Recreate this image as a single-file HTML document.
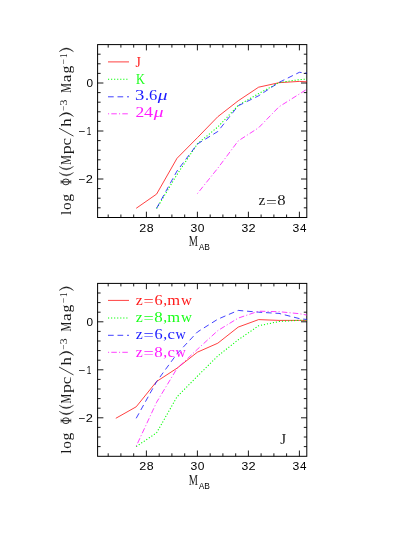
<!DOCTYPE html>
<html><head><meta charset="utf-8"><title>plot</title>
<style>html,body{margin:0;padding:0;background:#fff}svg{display:block;will-change:transform;opacity:.999}text{font-family:"Liberation Serif",serif;fill-opacity:0.90}.s{font-family:"Liberation Sans",sans-serif;fill-opacity:1}</style></head><body>
<svg width="402" height="535" viewBox="0 0 402 535">
<rect width="402" height="535" fill="#fff"/>
<defs><clipPath id="c1"><rect x="97.6" y="44.6" width="209.2" height="172.9"/></clipPath>
<clipPath id="c2"><rect x="97.6" y="283.4" width="209.2" height="172.9"/></clipPath></defs>
<rect x="97.6" y="44.6" width="209.2" height="172.9" fill="none" stroke="#000" stroke-width="1.0"/>
<path d="M108.2 217.5 v-3.0 M108.2 44.6 v3.0 M120.9 217.5 v-3.0 M120.9 44.6 v3.0 M133.7 217.5 v-3.0 M133.7 44.6 v3.0 M146.4 217.5 v-5.8 M146.4 44.6 v5.8 M159.2 217.5 v-3.0 M159.2 44.6 v3.0 M171.9 217.5 v-3.0 M171.9 44.6 v3.0 M184.7 217.5 v-3.0 M184.7 44.6 v3.0 M197.4 217.5 v-5.8 M197.4 44.6 v5.8 M210.2 217.5 v-3.0 M210.2 44.6 v3.0 M222.9 217.5 v-3.0 M222.9 44.6 v3.0 M235.7 217.5 v-3.0 M235.7 44.6 v3.0 M248.4 217.5 v-5.8 M248.4 44.6 v5.8 M261.1 217.5 v-3.0 M261.1 44.6 v3.0 M273.9 217.5 v-3.0 M273.9 44.6 v3.0 M286.6 217.5 v-3.0 M286.6 44.6 v3.0 M299.4 217.5 v-5.8 M299.4 44.6 v5.8 M97.6 207.8 h3.0 M306.8 207.8 h-3.0 M97.6 198.2 h3.0 M306.8 198.2 h-3.0 M97.6 188.6 h3.0 M306.8 188.6 h-3.0 M97.6 179.0 h5.8 M306.8 179.0 h-5.8 M97.6 169.4 h3.0 M306.8 169.4 h-3.0 M97.6 159.8 h3.0 M306.8 159.8 h-3.0 M97.6 150.2 h3.0 M306.8 150.2 h-3.0 M97.6 140.6 h3.0 M306.8 140.6 h-3.0 M97.6 131.0 h5.8 M306.8 131.0 h-5.8 M97.6 121.4 h3.0 M306.8 121.4 h-3.0 M97.6 111.8 h3.0 M306.8 111.8 h-3.0 M97.6 102.2 h3.0 M306.8 102.2 h-3.0 M97.6 92.6 h3.0 M306.8 92.6 h-3.0 M97.6 83.0 h5.8 M306.8 83.0 h-5.8 M97.6 73.4 h3.0 M306.8 73.4 h-3.0 M97.6 63.8 h3.0 M306.8 63.8 h-3.0 M97.6 54.2 h3.0 M306.8 54.2 h-3.0 " stroke="#000" stroke-width=".9" fill="none"/>
<text transform="translate(139.21,231.50) scale(1.165,1)" font-size="10.8" class="s">2</text><text transform="translate(146.71,231.50) scale(1.147,1)" font-size="10.8" class="s">8</text>
<text transform="translate(190.42,231.50) scale(1.128,1)" font-size="10.8" class="s">3</text><text transform="translate(197.72,231.50) scale(1.111,1)" font-size="10.8" class="s">0</text>
<text transform="translate(241.42,231.50) scale(1.128,1)" font-size="10.8" class="s">3</text><text transform="translate(248.50,231.50) scale(1.185,1)" font-size="10.8" class="s">2</text>
<text transform="translate(292.42,231.50) scale(1.128,1)" font-size="10.8" class="s">3</text><text transform="translate(299.92,231.50) scale(1.077,1)" font-size="10.8" class="s">4</text>
<text transform="translate(86.43,87.10) scale(1.093,1)" font-size="10.8" class="s">0</text>
<text transform="translate(78.15,135.10) scale(1.093,1)" font-size="10.8" class="s">−</text>
<text transform="translate(86.79,135.10) scale(0.756,1)" font-size="10.8" class="s">1</text>
<text transform="translate(78.15,183.10) scale(1.093,1)" font-size="10.8" class="s">−</text>
<text transform="translate(85.70,183.10) scale(1.185,1)" font-size="10.8" class="s">2</text>
<text transform="translate(188.84,246.10) scale(0.700,1)" font-size="14.8">M</text>
<text transform="translate(199.00,250.20) scale(0.917,1)" font-size="8.6" class="s">A</text><text transform="translate(204.34,250.20) scale(0.978,1)" font-size="8.6" class="s">B</text>
<g transform="translate(71.0,215.0) rotate(-90)">
<text transform="translate(-0.04,0.00) scale(1.000,1)" font-size="15.2">l</text><text transform="translate(5.02,0.00) scale(1.008,1)" font-size="15.2">o</text><text transform="translate(13.21,0.00) scale(1.031,1)" font-size="15.2">g</text><text transform="translate(50.33,0.00) scale(0.712,1)" font-size="15.2">M</text><text transform="translate(60.72,0.00) scale(1.191,1)" font-size="15.2">p</text><text transform="translate(69.47,0.00) scale(1.112,1)" font-size="15.2">c</text><text transform="translate(88.20,0.00) scale(1.105,1)" font-size="15.2">h</text><text transform="translate(122.33,0.00) scale(0.712,1)" font-size="15.2">M</text><text transform="translate(132.75,0.00) scale(1.150,1)" font-size="15.2">a</text><text transform="translate(141.41,0.00) scale(1.031,1)" font-size="15.2">g</text>
<text transform="translate(103.95,-4.40) scale(0.960,1)" font-size="10.0">−</text><text transform="translate(109.44,-4.40) scale(1.185,1)" font-size="10.0">3</text>
<text transform="translate(150.43,-4.40) scale(1.003,1)" font-size="10.0">−</text><text transform="translate(156.89,-4.40) scale(0.907,1)" font-size="10.0">1</text>
<path d="M42.50 -11.9 Q35.80 -4.65 42.50 2.6 Q38.00 -4.65 42.50 -11.9ZM48.60 -11.9 Q41.90 -4.65 48.60 2.6 Q44.10 -4.65 48.60 -11.9ZM98.50 -11.9 Q106.40 -4.65 98.50 2.6 Q104.20 -4.65 98.50 -11.9ZM163.30 -11.9 Q170.80 -4.65 163.30 2.6 Q168.60 -4.65 163.30 -11.9Z" fill="#000" fill-opacity=".85" stroke="#000" stroke-opacity=".85" stroke-width=".35" stroke-linejoin="round"/>
<path d="M78.9 2.5 L86.8 -12" stroke="#000" stroke-opacity=".85" stroke-width=".9" fill="none"/>
<g stroke="#000" stroke-opacity=".88" fill="none"><ellipse cx="33.1" cy="-5.1" rx="2.9" ry="3.4" stroke-width=".95"/><path d="M33.1 0 V-10.1" stroke-width="1.1"/><path d="M31.2 -0.2 H35 M31.2 -9.9 H35" stroke-width=".6"/></g>
</g>
<rect x="97.6" y="283.4" width="209.2" height="172.9" fill="none" stroke="#000" stroke-width="1.0"/>
<path d="M108.2 456.3 v-3.0 M108.2 283.4 v3.0 M120.9 456.3 v-3.0 M120.9 283.4 v3.0 M133.7 456.3 v-3.0 M133.7 283.4 v3.0 M146.4 456.3 v-5.8 M146.4 283.4 v5.8 M159.2 456.3 v-3.0 M159.2 283.4 v3.0 M171.9 456.3 v-3.0 M171.9 283.4 v3.0 M184.7 456.3 v-3.0 M184.7 283.4 v3.0 M197.4 456.3 v-5.8 M197.4 283.4 v5.8 M210.2 456.3 v-3.0 M210.2 283.4 v3.0 M222.9 456.3 v-3.0 M222.9 283.4 v3.0 M235.7 456.3 v-3.0 M235.7 283.4 v3.0 M248.4 456.3 v-5.8 M248.4 283.4 v5.8 M261.1 456.3 v-3.0 M261.1 283.4 v3.0 M273.9 456.3 v-3.0 M273.9 283.4 v3.0 M286.6 456.3 v-3.0 M286.6 283.4 v3.0 M299.4 456.3 v-5.8 M299.4 283.4 v5.8 M97.6 446.6 h3.0 M306.8 446.6 h-3.0 M97.6 437.0 h3.0 M306.8 437.0 h-3.0 M97.6 427.4 h3.0 M306.8 427.4 h-3.0 M97.6 417.8 h5.8 M306.8 417.8 h-5.8 M97.6 408.2 h3.0 M306.8 408.2 h-3.0 M97.6 398.6 h3.0 M306.8 398.6 h-3.0 M97.6 389.0 h3.0 M306.8 389.0 h-3.0 M97.6 379.4 h3.0 M306.8 379.4 h-3.0 M97.6 369.8 h5.8 M306.8 369.8 h-5.8 M97.6 360.2 h3.0 M306.8 360.2 h-3.0 M97.6 350.6 h3.0 M306.8 350.6 h-3.0 M97.6 341.0 h3.0 M306.8 341.0 h-3.0 M97.6 331.4 h3.0 M306.8 331.4 h-3.0 M97.6 321.8 h5.8 M306.8 321.8 h-5.8 M97.6 312.2 h3.0 M306.8 312.2 h-3.0 M97.6 302.6 h3.0 M306.8 302.6 h-3.0 M97.6 293.0 h3.0 M306.8 293.0 h-3.0 " stroke="#000" stroke-width=".9" fill="none"/>
<text transform="translate(139.21,470.30) scale(1.165,1)" font-size="10.8" class="s">2</text><text transform="translate(146.71,470.30) scale(1.147,1)" font-size="10.8" class="s">8</text>
<text transform="translate(190.42,470.30) scale(1.128,1)" font-size="10.8" class="s">3</text><text transform="translate(197.72,470.30) scale(1.111,1)" font-size="10.8" class="s">0</text>
<text transform="translate(241.42,470.30) scale(1.128,1)" font-size="10.8" class="s">3</text><text transform="translate(248.50,470.30) scale(1.185,1)" font-size="10.8" class="s">2</text>
<text transform="translate(292.42,470.30) scale(1.128,1)" font-size="10.8" class="s">3</text><text transform="translate(299.92,470.30) scale(1.077,1)" font-size="10.8" class="s">4</text>
<text transform="translate(86.43,325.90) scale(1.093,1)" font-size="10.8" class="s">0</text>
<text transform="translate(78.15,373.90) scale(1.093,1)" font-size="10.8" class="s">−</text>
<text transform="translate(86.79,373.90) scale(0.756,1)" font-size="10.8" class="s">1</text>
<text transform="translate(78.15,421.90) scale(1.093,1)" font-size="10.8" class="s">−</text>
<text transform="translate(85.70,421.90) scale(1.185,1)" font-size="10.8" class="s">2</text>
<text transform="translate(188.84,484.90) scale(0.700,1)" font-size="14.8">M</text>
<text transform="translate(199.00,489.00) scale(0.917,1)" font-size="8.6" class="s">A</text><text transform="translate(204.34,489.00) scale(0.978,1)" font-size="8.6" class="s">B</text>
<g transform="translate(71.0,453.8) rotate(-90)">
<text transform="translate(-0.04,0.00) scale(1.000,1)" font-size="15.2">l</text><text transform="translate(5.02,0.00) scale(1.008,1)" font-size="15.2">o</text><text transform="translate(13.21,0.00) scale(1.031,1)" font-size="15.2">g</text><text transform="translate(50.33,0.00) scale(0.712,1)" font-size="15.2">M</text><text transform="translate(60.72,0.00) scale(1.191,1)" font-size="15.2">p</text><text transform="translate(69.47,0.00) scale(1.112,1)" font-size="15.2">c</text><text transform="translate(88.20,0.00) scale(1.105,1)" font-size="15.2">h</text><text transform="translate(122.33,0.00) scale(0.712,1)" font-size="15.2">M</text><text transform="translate(132.75,0.00) scale(1.150,1)" font-size="15.2">a</text><text transform="translate(141.41,0.00) scale(1.031,1)" font-size="15.2">g</text>
<text transform="translate(103.95,-4.40) scale(0.960,1)" font-size="10.0">−</text><text transform="translate(109.44,-4.40) scale(1.185,1)" font-size="10.0">3</text>
<text transform="translate(150.43,-4.40) scale(1.003,1)" font-size="10.0">−</text><text transform="translate(156.89,-4.40) scale(0.907,1)" font-size="10.0">1</text>
<path d="M42.50 -11.9 Q35.80 -4.65 42.50 2.6 Q38.00 -4.65 42.50 -11.9ZM48.60 -11.9 Q41.90 -4.65 48.60 2.6 Q44.10 -4.65 48.60 -11.9ZM98.50 -11.9 Q106.40 -4.65 98.50 2.6 Q104.20 -4.65 98.50 -11.9ZM163.30 -11.9 Q170.80 -4.65 163.30 2.6 Q168.60 -4.65 163.30 -11.9Z" fill="#000" fill-opacity=".85" stroke="#000" stroke-opacity=".85" stroke-width=".35" stroke-linejoin="round"/>
<path d="M78.9 2.5 L86.8 -12" stroke="#000" stroke-opacity=".85" stroke-width=".9" fill="none"/>
<g stroke="#000" stroke-opacity=".88" fill="none"><ellipse cx="33.1" cy="-5.1" rx="2.9" ry="3.4" stroke-width=".95"/><path d="M33.1 0 V-10.1" stroke-width="1.1"/><path d="M31.2 -0.2 H35 M31.2 -9.9 H35" stroke-width=".6"/></g>
</g>
<g clip-path="url(#c1)" fill="none" stroke-width="0.75" stroke-linejoin="round">
<path d="M136.2 208.3 L156.6 194.1 L177.0 158.3 L197.4 137.7 L217.8 116.7 L238.2 100.8 L258.6 87.2 L279.0 82.7 L299.4 81.4 L319.8 82.6" stroke="#ff0000"/>
<path d="M156.6 208.6 L177.0 174.6 L197.4 143.8 L217.8 127.0 L238.2 105.4 L258.6 93.6 L279.0 82.6 L299.4 79.6 L319.8 78.0" stroke="#00ff00" stroke-dasharray="1.15 1.9" stroke-width="1.05"/>
<path d="M156.6 208.3 L177.0 171.0 L197.4 144.0 L217.8 131.5 L238.2 105.8 L258.6 95.8 L279.0 82.4 L299.4 72.3 L319.8 74.5" stroke="#0000ff" stroke-dasharray="5.7 3.8"/>
<path d="M197.4 193.6 L217.8 168.2 L238.2 140.9 L258.6 127.8 L279.0 106.8 L299.4 94.0 L319.8 81.0" stroke="#ff00ff" stroke-dasharray="1.1 2.2 5.5 2.2"/>
</g>
<g clip-path="url(#c2)" fill="none" stroke-width="0.75" stroke-linejoin="round">
<path d="M115.8 418.3 L136.2 406.8 L156.6 381.5 L177.0 368.2 L197.4 352.2 L217.8 343.2 L238.2 327.1 L258.6 319.6 L279.0 320.4 L299.4 320.4 L319.8 320.4" stroke="#ff0000"/>
<path d="M136.2 446.6 L156.6 432.8 L177.0 396.8 L197.4 376.2 L217.8 356.0 L238.2 339.8 L258.6 325.8 L279.0 321.5 L299.4 320.3 L319.8 320.3" stroke="#00ff00" stroke-dasharray="1.15 1.9" stroke-width="1.05"/>
<path d="M136.2 418.3 L156.6 381.6 L177.0 353.8 L197.4 332.0 L217.8 319.2 L238.2 310.4 L258.6 312.2 L279.0 313.4 L299.4 318.6 L319.8 321.0" stroke="#0000ff" stroke-dasharray="5.7 3.8"/>
<path d="M136.2 446.2 L156.6 402.3 L177.0 368.5 L197.4 349.3 L217.8 330.6 L238.2 318.1 L258.6 311.2 L279.0 311.7 L299.4 313.7 L319.8 317.5" stroke="#ff00ff" stroke-dasharray="1.1 2.2 5.5 2.2"/>
</g>
<path d="M108 61.9 H129" stroke="#ff0000" stroke-width="0.75" fill="none"/>
<path d="M108 79.3 H129" stroke="#00ff00" stroke-width="1.05" fill="none" stroke-dasharray="1.15 1.9"/>
<path d="M108 96.8 H129" stroke="#0000ff" stroke-width="0.75" fill="none" stroke-dasharray="5.7 3.8"/>
<path d="M108 113.8 H129" stroke="#ff00ff" stroke-width="0.75" fill="none" stroke-dasharray="1.1 2.2 5.5 2.2"/>
<path d="M108 300.4 H129" stroke="#ff0000" stroke-width="0.75" fill="none"/>
<path d="M108 317.9 H129" stroke="#00ff00" stroke-width="1.05" fill="none" stroke-dasharray="1.15 1.9"/>
<path d="M108 335.3 H129" stroke="#0000ff" stroke-width="0.75" fill="none" stroke-dasharray="5.7 3.8"/>
<path d="M108 352.3 H129" stroke="#ff00ff" stroke-width="0.75" fill="none" stroke-dasharray="1.1 2.2 5.5 2.2"/>
<text transform="translate(135.59,66.90) scale(0.897,1)" font-size="15.2" fill="#ff0000">J</text>
<text transform="translate(136.01,84.00) scale(0.814,1)" font-size="15.2" fill="#00ff00">K</text>
<text transform="translate(135.12,100.00) scale(1.283,1)" font-size="14.6" fill="#0000ff">3</text><text transform="translate(144.90,100.00) scale(1.096,1)" font-size="14.6" fill="#0000ff">.</text><text transform="translate(148.88,100.00) scale(1.134,1)" font-size="14.6" fill="#0000ff">6</text><text transform="translate(157.70,100.00) scale(1.329,1)" font-size="14.6" font-style="italic" fill="#0000ff">μ</text>
<text transform="translate(135.45,117.30) scale(1.201,1)" font-size="14.6" fill="#ff00ff">2</text><text transform="translate(144.12,117.30) scale(1.242,1)" font-size="14.6" fill="#ff00ff">4</text><text transform="translate(153.70,117.30) scale(1.329,1)" font-size="14.6" font-style="italic" fill="#ff00ff">μ</text>
<text transform="translate(135.75,304.90) scale(1.036,1)" font-size="15.2" fill="#ff0000">z</text><text transform="translate(143.55,306.00) scale(1.193,1)" font-size="15.2" fill="#ff0000">=</text><text transform="translate(154.39,304.90) scale(1.074,1)" font-size="15.2" fill="#ff0000">6</text><text transform="translate(163.32,304.90) scale(1.011,1)" font-size="15.2" fill="#ff0000">,</text><text transform="translate(167.24,304.90) scale(1.088,1)" font-size="15.2" fill="#ff0000">m</text><text transform="translate(180.90,304.90) scale(0.998,1)" font-size="15.2" fill="#ff0000">w</text>
<text transform="translate(135.75,322.00) scale(1.036,1)" font-size="15.2" fill="#00ff00">z</text><text transform="translate(143.55,323.10) scale(1.193,1)" font-size="15.2" fill="#00ff00">=</text><text transform="translate(154.37,322.00) scale(1.113,1)" font-size="15.2" fill="#00ff00">8</text><text transform="translate(163.32,322.00) scale(1.011,1)" font-size="15.2" fill="#00ff00">,</text><text transform="translate(167.24,322.00) scale(1.088,1)" font-size="15.2" fill="#00ff00">m</text><text transform="translate(180.90,322.00) scale(0.998,1)" font-size="15.2" fill="#00ff00">w</text>
<text transform="translate(135.75,339.20) scale(1.036,1)" font-size="15.2" fill="#0000ff">z</text><text transform="translate(143.55,340.30) scale(1.193,1)" font-size="15.2" fill="#0000ff">=</text><text transform="translate(154.39,339.20) scale(1.074,1)" font-size="15.2" fill="#0000ff">6</text><text transform="translate(163.32,339.20) scale(1.011,1)" font-size="15.2" fill="#0000ff">,</text><text transform="translate(167.38,339.20) scale(1.095,1)" font-size="15.2" fill="#0000ff">c</text><text transform="translate(175.40,339.20) scale(0.934,1)" font-size="15.2" fill="#0000ff">w</text>
<text transform="translate(135.75,356.70) scale(1.036,1)" font-size="15.2" fill="#ff00ff">z</text><text transform="translate(143.55,357.80) scale(1.193,1)" font-size="15.2" fill="#ff00ff">=</text><text transform="translate(154.37,356.70) scale(1.113,1)" font-size="15.2" fill="#ff00ff">8</text><text transform="translate(163.32,356.70) scale(1.011,1)" font-size="15.2" fill="#ff00ff">,</text><text transform="translate(167.38,356.70) scale(1.095,1)" font-size="15.2" fill="#ff00ff">c</text><text transform="translate(175.40,356.70) scale(0.934,1)" font-size="15.2" fill="#ff00ff">w</text>
<text transform="translate(258.56,205.40) scale(1.020,1)" font-size="15.2">z</text><text transform="translate(266.00,206.50) scale(1.263,1)" font-size="15.2">=</text><text transform="translate(277.18,205.40) scale(1.098,1)" font-size="15.2">8</text>
<text transform="translate(280.17,444.10) scale(0.989,1)" font-size="15.2">J</text>
</svg></body></html>
